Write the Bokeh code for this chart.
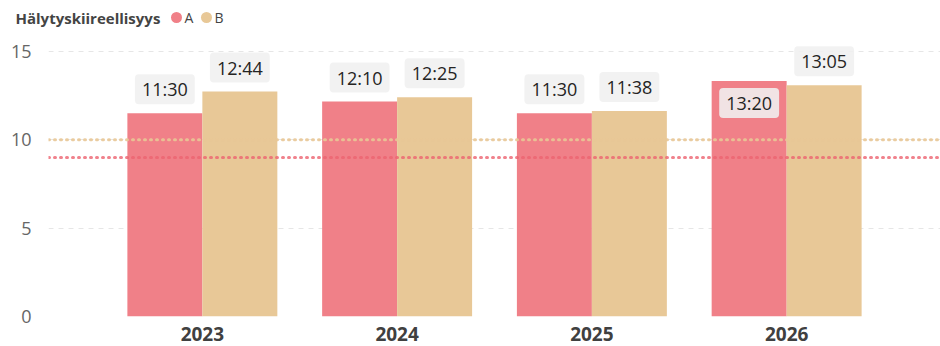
from bokeh.plotting import figure
from bokeh.layouts import column
from bokeh.models import ColumnDataSource, FactorRange, Range1d, Span, FixedTicker
from bokeh.transform import dodge
from bokeh.core.properties import value
from bokeh.embed import file_html
from bokeh.resources import INLINE

# Response times per year, mm:ss
years = ["2023", "2024", "2025", "2026"]
a_times = ["11:30", "12:10", "11:30", "13:20"]
b_times = ["12:44", "12:25", "11:38", "13:05"]
target_a = 9
target_b = 10
y_ticks = [0, 5, 10, 15]
series_names = ["A", "B"]
legend_title = "Hälytyskiireellisyys"

RED = "#F08088"
TAN = "#E8C897"
FONT = "Open Sans"


def to_minutes(t):
    m, s = t.split(":")
    return int(m) + int(s) / 60.0


a_vals = [to_minutes(t) for t in a_times]
b_vals = [to_minutes(t) for t in b_times]

W = 940
HEAD_H = 34
MAIN_H = 346 - HEAD_H
TOP, BOTTOM, LEFT = 5, 30, 48
frame_h = MAIN_H - TOP - BOTTOM
px_per_unit = 265 / 15.0
y_end = frame_h / px_per_unit

# ---- header strip with the legend (coordinates in page pixels) ----
head = figure(width=W, height=HEAD_H, output_backend="svg", toolbar_location=None,
              x_range=Range1d(0, W), y_range=Range1d(HEAD_H, 0),
              x_axis_location=None, y_axis_location=None,
              min_border_left=0, min_border_right=0,
              min_border_top=0, min_border_bottom=0)
head.grid.visible = False
head.outline_line_color = None

head.text(x=[15], y=[17], text=[legend_title], text_font=value(FONT),
          text_font_size="15px", text_font_style="bold", text_color="#444444",
          text_align="left", text_baseline="middle")
key_x = [176, 206]
head.scatter(x=key_x, y=[17, 17], marker="circle", size=11,
             fill_color=[RED, TAN], line_color=None)
head.text(x=[k + 8 for k in key_x], y=[17, 17], text=series_names,
          text_font=value(FONT), text_font_size="14px", text_color="#444444",
          text_align="left", text_baseline="middle")

# ---- main chart ----
p = figure(width=W, height=MAIN_H, output_backend="svg", toolbar_location=None,
           x_range=FactorRange(*years, range_padding=0.29,
                               range_padding_units="absolute"),
           y_range=Range1d(0, y_end),
           min_border_left=LEFT, min_border_right=0,
           min_border_top=TOP, min_border_bottom=BOTTOM)
p.outline_line_color = None
p.background_fill_color = "white"
p.border_fill_color = "white"

# keep the header frame spanning the full width instead of lining up with the chart
for fig in (head, p):
    if "frame_align" in fig.properties():
        fig.frame_align = False

bw = 0.385
src = ColumnDataSource(dict(year=years, a=a_vals, b=b_vals,
                            a_lab=a_times, b_lab=b_times))

p.vbar(x=dodge("year", -bw / 2, range=p.x_range), top="a", width=bw,
       bottom=0, source=src, fill_color=RED, line_color=None)
p.vbar(x=dodge("year", bw / 2, range=p.x_range), top="b", width=bw,
       bottom=0, source=src, fill_color=TAN, line_color=None)

# target lines
p.add_layout(Span(location=target_b, dimension="width", line_color="#E8C796",
                  line_width=3, line_dash="1 5", line_cap="round", line_alpha=0.9))
p.add_layout(Span(location=target_a, dimension="width", line_color="#EC6470",
                  line_width=3, line_dash="1 5", line_cap="round", line_alpha=0.8))

# data labels: above the bar, or inside it when there is no room on top
room = 40 / px_per_unit
limit = 15.5


def label_offsets(vals):
    return [22 if v + room > limit else -24 for v in vals]


src.data["a_off"] = label_offsets(a_vals)
src.data["b_off"] = label_offsets(b_vals)

for col, lab, off, sign in (("a", "a_lab", "a_off", -1), ("b", "b_lab", "b_off", 1)):
    p.text(x=dodge("year", sign * bw / 2, range=p.x_range), y=col, text=lab,
           y_offset=off, source=src,
           text_font=value(FONT), text_font_size="18px", text_color="#252423",
           text_align="center", text_baseline="middle",
           background_fill_color="#F0F0F0", background_fill_alpha=0.88,
           border_radius=4, padding=(7, 3))

# axes
p.yaxis.ticker = FixedTicker(ticks=y_ticks)
p.yaxis.axis_line_color = None
p.yaxis.major_tick_line_color = None
p.yaxis.minor_tick_line_color = None
p.yaxis.major_label_text_font = FONT
p.yaxis.major_label_text_font_size = "18px"
p.yaxis.major_label_text_color = "#666666"
p.yaxis.major_label_standoff = 11

p.xaxis.axis_line_color = None
p.xaxis.major_tick_line_color = None
p.xaxis.major_label_text_font = FONT
p.xaxis.major_label_text_font_size = "19px"
p.xaxis.major_label_text_font_style = "bold"
p.xaxis.major_label_text_color = "#404040"
p.xaxis.major_label_standoff = 4

p.xgrid.grid_line_color = None
p.ygrid.grid_line_color = "#E6E6E6"
p.ygrid.grid_line_dash = "5 5"
p.ygrid.grid_line_width = 1

open("out.html", "w").write(file_html(column(head, p, spacing=0), INLINE))
